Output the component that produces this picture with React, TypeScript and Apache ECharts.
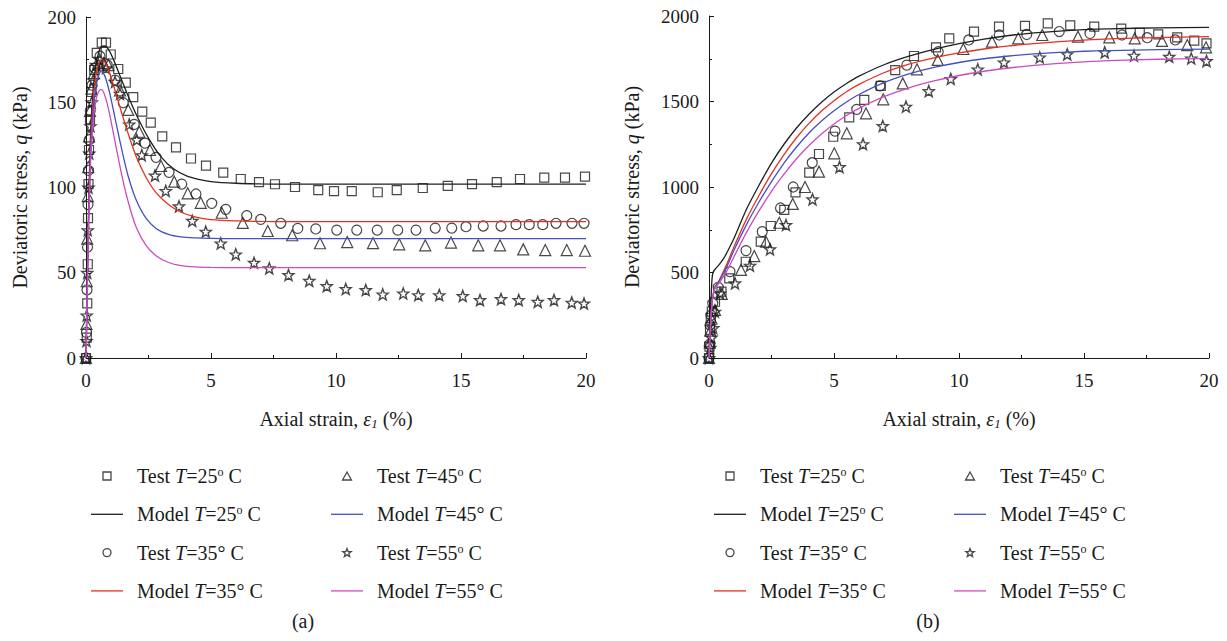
import React, { useEffect, useRef } from "react";
import * as echarts from "echarts";

// ---------- Panel (a): axial strain (%) vs deviatoric stress (kPa) ----------
const A_TEST25 = [[0,0],[0.03,12],[0.05,32],[0.07,55],[0.08,82],[0.1,102],[0.12,122],[0.16,140],[0.22,156],[0.33,169],[0.43,179],[0.63,185],[0.8,185],[0.99,178],[1.29,169.5],[1.59,161.5],[1.89,153],[2.25,144.5],[2.59,138],[3.05,130],[3.6,123.5],[4.2,117],[4.8,112.8],[5.49,108.7],[6.19,105],[6.92,103.2],[7.56,101.9],[8.36,100.3],[9.29,98.5],[9.92,97.9],[10.63,97.9],[11.67,97.2],[12.43,98.5],[13.47,99.7],[14.47,100.9],[15.44,102],[16.43,103.2],[17.36,105],[18.33,105.8],[19.16,105.8],[19.96,106.4]];
const A_TEST35 = [[0,0],[0.02,15],[0.04,40],[0.06,65],[0.08,90],[0.1,110],[0.13,128],[0.17,145],[0.24,160],[0.35,170],[0.56,177],[0.85,172],[1.16,163],[1.49,149.7],[1.93,137],[2.36,126],[2.8,117.7],[3.32,108.9],[3.83,102],[4.4,96.2],[5.03,90.7],[5.59,87.2],[6.43,83.5],[6.99,81.3],[7.79,79],[8.47,76],[9.19,75.7],[10.03,75],[10.83,75],[11.65,75],[12.47,75],[13.2,75],[13.97,76.2],[14.63,76.2],[15.2,77],[15.89,77.4],[16.6,77.4],[17.2,78.2],[17.73,78.2],[18.27,78.2],[18.8,79],[19.44,79],[19.92,79]];
const A_TEST45 = [[0,0],[0.02,20],[0.03,45],[0.05,70],[0.07,95],[0.09,112],[0.12,130],[0.16,145],[0.22,158],[0.32,167],[0.5,172],[0.7,173],[0.89,171.8],[1.36,157],[1.69,145.5],[2.13,132.7],[2.56,122],[3.0,112.6],[3.53,103.4],[4.07,96.6],[4.59,91],[5.43,85.2],[6.27,79.3],[7.27,74.5],[8.25,72],[9.36,67.3],[10.45,68],[11.48,67.4],[12.53,66.7],[13.57,66.1],[14.6,67.7],[15.69,66.1],[16.56,66.1],[17.49,63.7],[18.37,63.3],[19.23,63.3],[19.96,62.9]];
const A_TEST55 = [[0,0],[0.02,10],[0.03,25],[0.05,50],[0.07,75],[0.1,100],[0.13,120],[0.18,136],[0.23,150],[0.29,163],[0.4,172],[0.55,175],[0.8,170],[1.16,162],[1.36,155],[1.73,137],[2.03,128],[2.23,119],[2.76,107],[3.19,98],[3.72,89],[4.25,80.5],[4.79,74.1],[5.39,67.2],[5.99,60.8],[6.72,55.9],[7.33,52.6],[8.1,48.7],[8.93,45.3],[9.63,42.2],[10.39,40.5],[11.19,39.9],[11.87,37.3],[12.69,37.9],[13.29,36.9],[14.13,36.9],[15.07,36.4],[15.76,34],[16.6,34.6],[17.31,34],[18.07,33],[18.72,34],[19.43,32.5],[19.92,32]];
const A_MODEL25 = [[0,0],[0.05,45],[0.1,85],[0.15,115],[0.2,137],[0.3,160],[0.4,172],[0.5,179],[0.6,182.5],[0.75,183],[0.9,181],[1.1,175],[1.4,164],[1.76,151],[2.1,140],[2.5,129],[3.0,118],[3.5,111],[4.0,107],[4.5,104.8],[5.0,103.5],[6.0,102.5],[7.0,102.1],[8,102],[20,102]];
const A_MODEL35 = [[0,0],[0.05,42],[0.1,80],[0.15,108],[0.2,130],[0.3,153],[0.4,166],[0.5,172.5],[0.62,175],[0.75,173.5],[0.9,169],[1.1,160],[1.4,145],[1.7,131],[2.0,118.5],[2.4,106],[2.8,97],[3.3,90],[3.8,85.5],[4.4,82.6],[5.0,81.2],[6.0,80.4],[7.0,80.1],[8,80],[20,80]];
const A_MODEL45 = [[0,0],[0.05,40],[0.1,77],[0.15,104],[0.2,125],[0.3,147],[0.4,159],[0.5,165.5],[0.6,168],[0.72,166.5],[0.85,161],[1.0,152],[1.2,138],[1.45,121],[1.7,106],[2.0,93],[2.4,82],[2.8,76],[3.3,72.5],[3.8,71],[4.4,70.4],[5.0,70.15],[6,70],[20,70]];
const A_MODEL55 = [[0,0],[0.05,40],[0.1,76],[0.15,101],[0.2,120],[0.3,141],[0.4,151.5],[0.5,156],[0.6,157.5],[0.7,156],[0.85,149],[1.0,139],[1.2,124],[1.45,106],[1.7,91],[2.0,77],[2.4,66],[2.8,60],[3.3,56],[3.8,54.2],[4.4,53.4],[5.0,53.1],[6,53],[20,53]];

// ---------- Panel (b) ----------
const B_TEST25 = [[0,0],[0.02,66],[0.04,164],[0.07,235],[0.11,271],[0.24,329],[0.5,388],[0.81,466],[1.47,563],[2.07,680],[2.47,772],[3.01,866],[3.46,969],[4.01,1084],[4.4,1193],[4.97,1294],[5.61,1407],[6.21,1509],[6.87,1591],[7.45,1684],[8.2,1766],[9.08,1817],[9.61,1869],[10.6,1909],[11.6,1938],[12.64,1942],[13.55,1957],[14.45,1945],[15.41,1938],[16.49,1926],[17.23,1902],[17.97,1892],[18.73,1875],[19.41,1856],[19.9,1840]];
const B_TEST35 = [[0,0],[0.02,80],[0.04,193],[0.08,250],[0.15,320],[0.37,413],[0.84,505],[1.48,628],[2.13,739],[2.86,877],[3.37,1000],[4.13,1142],[5.04,1327],[5.91,1454],[6.84,1591],[7.91,1713],[9.17,1791],[10.39,1860],[11.61,1889],[12.71,1892],[14.01,1909],[15.24,1898],[16.52,1889],[17.53,1873],[18.65,1860]];
const B_TEST45 = [[0,0],[0.03,90],[0.05,160],[0.1,230],[0.24,281],[0.51,375],[1.28,515],[1.81,596],[2.28,680],[2.81,791],[3.35,901],[3.84,1000],[4.4,1090],[5.01,1197],[5.51,1314],[6.28,1431],[6.97,1513],[7.75,1606],[8.32,1688],[9.15,1743],[10.17,1807],[11.32,1850],[12.37,1869],[13.33,1889],[14.76,1879],[16.01,1875],[17.03,1869],[18.12,1854],[19.13,1830],[19.88,1817]];
const B_TEST55 = [[0,0],[0.05,60],[0.1,120],[0.17,175],[0.24,271],[0.44,378],[1.04,437],[1.64,540],[2.44,636],[3.08,778],[4.14,928],[5.22,1117],[6.16,1251],[6.95,1357],[7.88,1470],[8.79,1561],[9.67,1632],[10.75,1688],[11.8,1729],[13.23,1758],[14.33,1776],[15.83,1788],[17,1768],[18.41,1762],[19.29,1752],[19.9,1737]];
const B_MODEL25 = [[0,0],[0.03,120],[0.06,260],[0.09,380],[0.12,460],[0.16,500],[0.25,520],[0.4,545],[0.6,585],[0.8,640],[1.0,700],[1.5,870],[2.0,1010],[2.5,1140],[3.0,1250],[3.5,1345],[4.0,1425],[4.5,1495],[5.0,1555],[5.5,1605],[6.0,1648],[7.0,1715],[8.0,1765],[9.0,1805],[10,1838],[11,1865],[12,1886],[13,1901],[14,1912],[15,1920],[16,1925],[18,1931],[20,1934]];
const B_MODEL35 = [[0,0],[0.04,130],[0.08,250],[0.14,350],[0.24,415],[0.4,452],[0.7,545],[1.0,650],[1.5,812],[2.0,950],[2.5,1078],[3.0,1190],[3.5,1288],[4.0,1372],[4.5,1444],[5.0,1505],[5.5,1557],[6.0,1600],[7.0,1668],[8.0,1718],[9.0,1755],[10,1784],[11,1807],[12,1825],[13,1839],[14,1850],[15,1859],[16,1866],[18,1874],[20,1879]];
const B_MODEL45 = [[0,0],[0.04,128],[0.08,246],[0.14,346],[0.24,412],[0.4,448],[0.7,530],[1.0,630],[1.5,780],[2.0,912],[2.5,1032],[3.0,1140],[3.5,1234],[4.0,1316],[4.5,1386],[5.0,1446],[5.5,1497],[6.0,1541],[7.0,1610],[8.0,1661],[9.0,1699],[10,1728],[11,1750],[12,1766],[13,1778],[14,1787],[15,1794],[16,1798],[18,1803],[20,1806]];
const B_MODEL55 = [[0,0],[0.04,125],[0.08,242],[0.14,342],[0.24,408],[0.4,438],[0.7,505],[1.0,592],[1.5,735],[2.0,860],[2.5,975],[3.0,1075],[3.5,1165],[4.0,1243],[4.5,1310],[5.0,1368],[5.5,1418],[6.0,1460],[7.0,1528],[8.0,1580],[9.0,1620],[10,1652],[11,1677],[12,1696],[13,1711],[14,1723],[15,1732],[16,1739],[18,1747],[20,1752]];

const NAMES_TEST = ["Test T=25º C", "Test T=35° C", "Test T=45º C", "Test T=55º C"];
const NAMES_MODEL = ["Model T=25º C", "Model T=35° C", "Model T=45° C", "Model T=55° C"];
const MODEL_COLORS = ["#1f1f1f", "#e3321f", "#4251c0", "#cc4cbf"];
const STAR = "path://M12,1 L14.9,8.6 L23,8.9 L16.7,14 L18.9,21.8 L12,17.3 L5.1,21.8 L7.3,14 L1,8.9 L9.1,8.6 Z";
const TEST_SYMBOLS = ["rect", "circle", "triangle", STAR];
const TEST_SIZES = [9, 10, 11, 11];
const LEGEND_TEST_ICONS = [
  "path://M0,0 L10,0 L10,10 L0,10 Z",
  "path://M10,5 A5,5 0 1 1 0,5 A5,5 0 1 1 10,5 Z",
  "path://M5,0 L10,9 L0,9 Z",
  STAR,
];
const LEGEND_LINE_ICON = "path://M0,0 L64,0 L64,2.6 L0,2.6 Z";

const FONT = "'Liberation Serif', 'Times New Roman', serif";
const INK = "#1a1a1a";

export default function App() {
  const ref = useRef<HTMLDivElement>(null);
  useEffect(() => {
    if (!ref.current) return;
    const chart = echarts.init(ref.current, undefined, { renderer: "svg" });

    const testA = [A_TEST25, A_TEST35, A_TEST45, A_TEST55];
    const modelA = [A_MODEL25, A_MODEL35, A_MODEL45, A_MODEL55];
    const testB = [B_TEST25, B_TEST35, B_TEST45, B_TEST55];
    const modelB = [B_MODEL25, B_MODEL35, B_MODEL45, B_MODEL55];

    const series: any[] = [];
    [testA, testB].forEach((set, p) => {
      set.forEach((d, i) => {
        series.push({
          type: "scatter",
          name: NAMES_TEST[i],
          xAxisIndex: p,
          yAxisIndex: p,
          data: d,
          symbol: TEST_SYMBOLS[i],
          symbolSize: TEST_SIZES[i],
          itemStyle: { color: "rgba(255,255,255,0)", borderColor: INK, borderWidth: i === 3 ? 1.4 : 1.2 },
          z: 2,
        });
      });
    });
    [modelA, modelB].forEach((set, p) => {
      set.forEach((d, i) => {
        series.push({
          type: "line",
          name: NAMES_MODEL[i],
          xAxisIndex: p,
          yAxisIndex: p,
          data: d,
          symbol: "none",
          showSymbol: false,
          smooth: 0.3,
          lineStyle: { color: MODEL_COLORS[i], width: 1.3 },
          itemStyle: { color: MODEL_COLORS[i] },
          z: 3,
        });
      });
    });

    const tickLabel = { color: INK, fontFamily: FONT, fontSize: 19, formatter: (v: number) => String(v) };
    const nameStyle = {
      color: INK,
      fontFamily: FONT,
      fontSize: 20,
      rich: {
        i: { fontStyle: "italic", fontFamily: FONT, fontSize: 20, color: INK },
        sub: { fontStyle: "italic", fontFamily: FONT, fontSize: 13, color: INK, padding: [9, 0, 0, 0] },
      },
    };
    const axisCommon = {
      axisLine: { show: true, onZero: false, lineStyle: { color: INK, width: 1 } },
      axisTick: { show: true, inside: true, length: 5, lineStyle: { color: INK } },
      minorTick: { show: true, splitNumber: 2, length: 3, lineStyle: { color: INK } },
      splitLine: { show: false },
      nameLocation: "middle",
      nameTextStyle: nameStyle,
    };
    const xAxis = [0, 1].map((p) => ({
      ...axisCommon,
      type: "value",
      gridIndex: p,
      min: 0,
      max: 20,
      interval: 5,
      name: "Axial strain, {i|ε}{sub|1} (%)",
      nameGap: 50,
      axisLabel: { ...tickLabel, margin: 13 },
    }));
    const yAxis = [
      {
        ...axisCommon,
        type: "value",
        gridIndex: 0,
        min: 0,
        max: 200,
        interval: 50,
        name: "Deviatoric stress, {i|q} (kPa)",
        nameGap: 56,
        axisLabel: { ...tickLabel, margin: 10 },
      },
      {
        ...axisCommon,
        type: "value",
        gridIndex: 1,
        min: 0,
        max: 2000,
        interval: 500,
        name: "Deviatoric stress, {i|q} (kPa)",
        nameGap: 67,
        axisLabel: { ...tickLabel, margin: 10 },
      },
    ];

    const legendItem = (name: string) => {
      const ti = NAMES_TEST.indexOf(name);
      if (ti >= 0) {
        return {
          name,
          icon: LEGEND_TEST_ICONS[ti],
          itemStyle: { color: "rgba(255,255,255,0)", borderColor: INK, borderWidth: 1.3 },
        };
      }
      const mi = NAMES_MODEL.indexOf(name);
      return {
        name,
        icon: LEGEND_LINE_ICON,
        itemStyle: { color: MODEL_COLORS[mi], borderWidth: 0 },
      };
    };
    const mkLegend = (left: number, names: string[]) => ({
      orient: "vertical",
      left,
      top: 461,
      itemWidth: 32,
      itemHeight: 8,
      itemGap: 18.3,
      selectedMode: false,
      data: names.map(legendItem),
      formatter: (n: string) => "{g|}" + n.replace("T=", "{i|T}=").replace("º", "{s|o}"),
      textStyle: {
        color: INK,
        fontFamily: FONT,
        fontSize: 20,
        lineHeight: 20,
        rich: {
          g: { width: 9 },
          i: { fontStyle: "italic", fontFamily: FONT, fontSize: 20, color: INK },
          s: { fontFamily: FONT, fontSize: 12, color: INK, padding: [0, 0, 8, 0] },
        },
      },
    });
    const col1 = [NAMES_TEST[0], NAMES_MODEL[0], NAMES_TEST[1], NAMES_MODEL[1]];
    const col2 = [NAMES_TEST[2], NAMES_MODEL[2], NAMES_TEST[3], NAMES_MODEL[3]];

    chart.setOption({
      animation: false,
      backgroundColor: "#ffffff",
      grid: [
        { left: 86, top: 17, width: 500, height: 341 },
        { left: 709, top: 16, width: 500, height: 342 },
      ],
      xAxis,
      yAxis,
      legend: [mkLegend(86, col1), mkLegend(326, col2), mkLegend(709, col1), mkLegend(949, col2)],
      graphic: [
        { type: "text", x: 303, y: 621, style: { text: "(a)", fill: INK, font: `20px ${FONT}`, textAlign: "center", textVerticalAlign: "middle" } },
        { type: "text", x: 928, y: 621, style: { text: "(b)", fill: INK, font: `20px ${FONT}`, textAlign: "center", textVerticalAlign: "middle" } },
      ],
      series,
    });
    return () => chart.dispose();
  }, []);
  return (
    <div
      ref={ref}
      style={{ position: "fixed", left: 0, top: 0, width: 1227, height: 641, background: "#fff" }}
    />
  );
}
